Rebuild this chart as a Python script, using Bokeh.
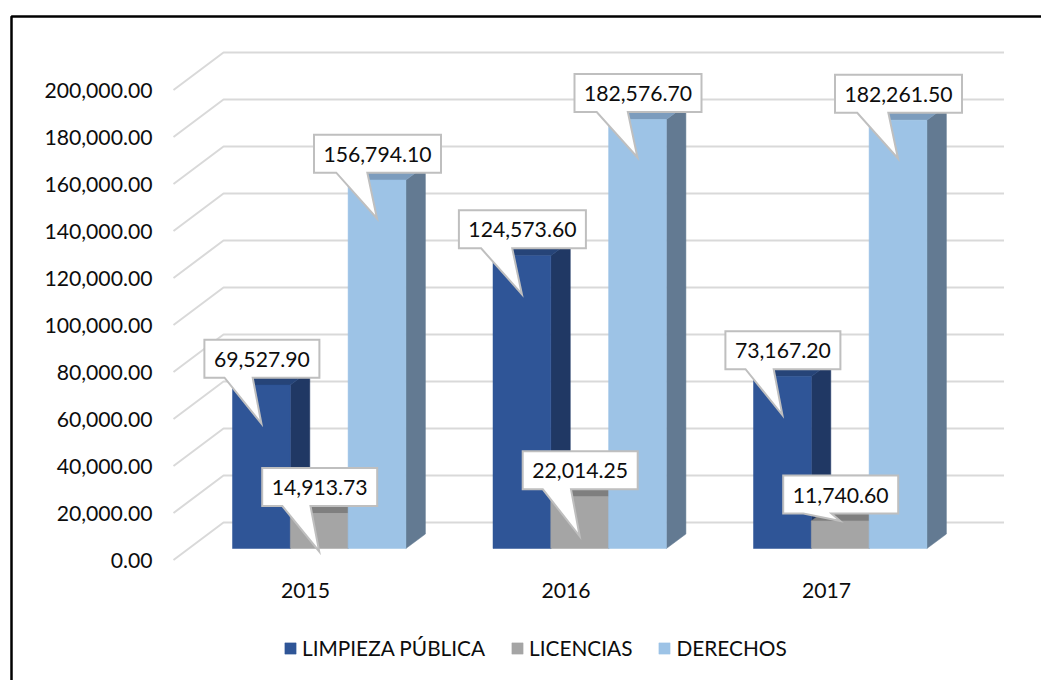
from bokeh.plotting import figure
from bokeh.models import Range1d, FixedTicker, NumeralTickFormatter, Legend, LegendItem, BoxAnnotation
from bokeh.core.properties import value
from bokeh.embed import file_html
from bokeh.resources import INLINE

years = ["2015", "2016", "2017"]
series_names = ["LIMPIEZA PÚBLICA", "LICENCIAS", "DERECHOS"]
limpieza = [69527.90, 124573.60, 73167.20]
licencias = [14913.73, 22014.25, 11740.60]
derechos = [156794.10, 182576.70, 182261.50]
y_ticks = list(range(0, 200001, 20000))

# layout
FIG_W, FIG_H = 1041, 680
AXIS_X_PX, AXIS_Y_PX = 173, 572
PX_PER_VALUE = 47 / 20000
PITCH = 260.5
FONT = "Lato"
FS = "21.2px"
AXIS_BASE_PX = 559.5          # figure px of value 0 on the axis plane
X0_PX = 305.0                 # figure px of category 0 (tick position)
BAR_W = 57.8
BAR_OFF = [-73, -15.2, 42.6]  # bar left relative to tick, px
BAR_PLANE = (0, -11.5)        # bars' front plane relative to axis plane
BAR_DEPTH = (19.5, -14.5)
WALL = (50, -37.5)
GRID_RIGHT_PX = 1003.5
COLORS = ["#2F5597", "#A5A5A5", "#9DC3E6"]
SIDES = ["#203864", "#7F7F7F", "#637A92"]
TOPS = ["#264478", "#7F7F7F", "#7C9CBD"]
TIP_DROP = [[38.5, 38.5, 38.5], [38, 39.5, 0], [38.5, 38, 38.3]]  # by series, by year


def xd(px):
    return (px - X0_PX) / PITCH


def yd(px):
    return (AXIS_BASE_PX - px) / PX_PER_VALUE


def bar_y_px(v):
    return AXIS_BASE_PX + BAR_PLANE[1] - v * PX_PER_VALUE


p = figure(width=FIG_W, height=FIG_H, output_backend="svg", toolbar_location=None,
           x_range=Range1d(xd(0), xd(FIG_W)),
           y_range=Range1d(yd(FIG_H), yd(0)),
           min_border_left=0, min_border_right=0, min_border_top=0, min_border_bottom=0,
           background_fill_color="white", border_fill_color="white", outline_line_color=None)
p.grid.visible = False

# axes
p.yaxis.ticker = FixedTicker(ticks=y_ticks)
p.yaxis.formatter = NumeralTickFormatter(format="0,0.00")
p.yaxis.fixed_location = xd(AXIS_X_PX)
p.xaxis.ticker = FixedTicker(ticks=[0, 1, 2])
p.xaxis.major_label_overrides = {i: y for i, y in enumerate(years)}
p.xaxis.fixed_location = yd(AXIS_Y_PX)
for ax in (p.xaxis, p.yaxis):
    ax.axis_line_color = None
    ax.major_tick_line_color = None
    ax.minor_tick_line_color = None
    ax.major_label_text_font = FONT
    ax.major_label_text_font_size = FS
    ax.major_label_text_color = "#0D0D0D"
p.yaxis.major_label_standoff = 15
p.xaxis.major_label_standoff = 4

# gridlines: floor-to-wall polylines
grid_xs, grid_ys = [], []
for t in y_ticks:
    y_px = AXIS_BASE_PX - t * PX_PER_VALUE
    grid_xs.append([xd(AXIS_X_PX), xd(AXIS_X_PX + WALL[0]), xd(GRID_RIGHT_PX)])
    grid_ys.append([yd(y_px), yd(y_px + WALL[1]), yd(y_px + WALL[1])])
p.multi_line(grid_xs, grid_ys, line_color="#D9D9D9", line_width=2)

# bars
base_px = bar_y_px(0)
legend_items = []
all_series = [limpieza, licencias, derechos]
for s, (vals, name) in enumerate(zip(all_series, series_names)):
    for g, v in enumerate(vals):
        left = X0_PX + g * PITCH + BAR_OFF[s]
        right = left + BAR_W
        top = bar_y_px(v)
        dx, dy = BAR_DEPTH
        p.patch([xd(right), xd(right + dx), xd(right + dx), xd(right)],
                [yd(base_px), yd(base_px + dy), yd(top + dy), yd(top)],
                fill_color=SIDES[s], line_color=SIDES[s], line_width=0.5)
        p.patch([xd(left), xd(right), xd(right + dx), xd(left + dx)],
                [yd(top), yd(top), yd(top + dy), yd(top + dy)],
                fill_color=TOPS[s], line_color=TOPS[s], line_width=0.5)
    lefts = [xd(X0_PX + g * PITCH + BAR_OFF[s]) for g in range(len(vals))]
    rights = [xd(X0_PX + g * PITCH + BAR_OFF[s] + BAR_W) for g in range(len(vals))]
    tops = [yd(bar_y_px(v)) for v in vals]
    r = p.quad(left=lefts, right=rights, top=tops, bottom=yd(base_px),
               fill_color=COLORS[s], line_color=COLORS[s], line_width=0.5)
    legend_items.append(LegendItem(label=value(name), renderers=[r]))

# callouts
BOX_H = 38
BOX_UP = 45.4
for s, vals in enumerate(all_series):
    for g, v in enumerate(vals):
        text = f"{v:,.2f}"
        w = 115 if len(text) == 9 else 127
        left = X0_PX + g * PITCH + BAR_OFF[s]
        cx = left + BAR_W / 2 + 0.5
        top = bar_y_px(v)
        bt = top - BOX_UP
        bb = bt + BOX_H
        bl = cx - w / 2
        br = cx + w / 2
        tipx = cx - 0.5
        tipy = top + TIP_DROP[s][g]
        px_x = [bl, br, br, bl + w * 0.42, tipx, bl + w * 0.175, bl, bl]
        px_y = [bt, bt, bb, bb, tipy, bb, bb, bt]
        p.patch([xd(a) for a in px_x], [yd(a) for a in px_y],
                fill_color="white", line_color="#BFBFBF", line_width=2, line_join="miter")
        p.text([xd(cx)], [yd((bt + bb) / 2 + 0.5)], text=[text], text_align="center", text_baseline="middle",
               text_font=value(FONT), text_font_size=FS, text_color="#0D0D0D")

legend = Legend(items=legend_items, orientation="horizontal", location=(283, 20),
                padding=0, margin=0, spacing=25, label_standoff=5,
                glyph_width=14, glyph_height=14, border_line_color=None, background_fill_alpha=0,
                label_text_font=FONT, label_text_font_size="20.8px", label_text_color="#0D0D0D",
                label_height=14)
p.add_layout(legend, "center")

# black frame of the page, open past the right and bottom edges
frame = BoxAnnotation(left=11, right=FIG_W + 20, top=16, bottom=FIG_H + 20,
                      left_units="canvas", right_units="canvas", top_units="canvas", bottom_units="canvas",
                      fill_alpha=0, line_color="black", line_alpha=1, line_width=2.5, level="overlay")
p.add_layout(frame)

open("out.html", "w").write(file_html(p, INLINE))
